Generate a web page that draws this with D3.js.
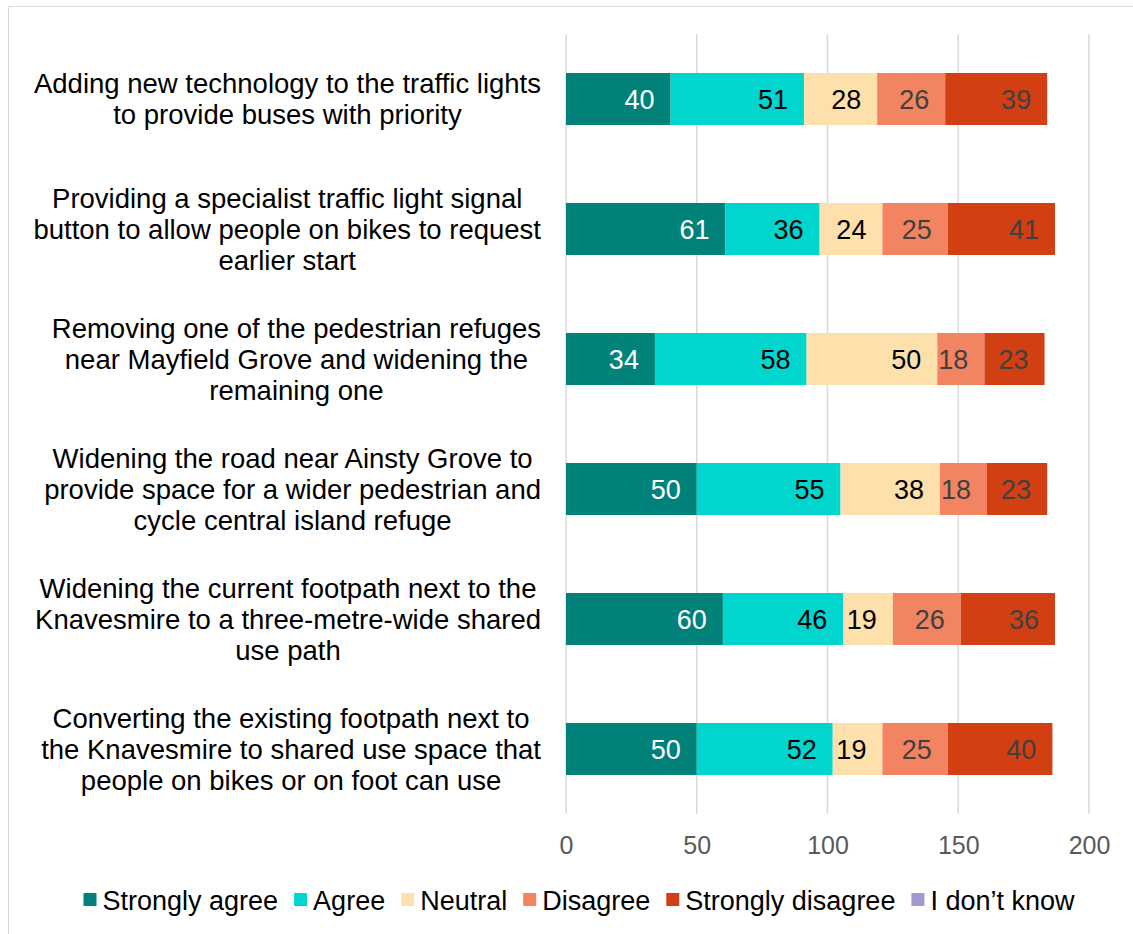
<!DOCTYPE html>
<html>
<head>
<meta charset="utf-8">
<script src="https://cdn.jsdelivr.net/npm/d3@7"></script>
<style>
  body { margin: 0; background: #fff; }
  text { font-family: "Liberation Sans", Arial, sans-serif; }
</style>
</head>
<body>
<svg id="chart" width="1133" height="934"></svg>
<script>
const categories = [
  ['Adding new technology to the traffic lights', 'to provide buses with priority'],
  ['Providing a specialist traffic light signal', 'button to allow people on bikes to request', 'earlier start'],
  ['Removing one of the pedestrian refuges', 'near Mayfield Grove and widening the', 'remaining one'],
  ['Widening the road near Ainsty Grove to', 'provide space for a wider pedestrian and', 'cycle central island refuge'],
  ['Widening the current footpath next to the', 'Knavesmire to a three-metre-wide shared', 'use path'],
  ['Converting the existing footpath next to', 'the Knavesmire to shared use space that', 'people on bikes or on foot can use'],
];

const seriesNames = ['Strongly agree', 'Agree', 'Neutral', 'Disagree', 'Strongly disagree', 'I don\u2019t know'];
const stronglyAgree = [40, 61, 34, 50, 60, 50];
const agree = [51, 36, 58, 55, 46, 52];
const neutral = [28, 24, 50, 38, 19, 19];
const disagree = [26, 25, 18, 18, 26, 25];
const stronglyDisagree = [39, 41, 23, 23, 36, 40];
const dontKnow = [0, 0, 0, 0, 0, 0];
const xTicks = [0, 50, 100, 150, 200];

const colors = ['#00827a', '#00d6ce', '#fde0ab', '#f28462', '#d13f12', '#a399d2'];
const labelColors = ['#ffffff', '#000000', '#000000', '#404040', '#404040', '#404040'];

const series = [stronglyAgree, agree, neutral, disagree, stronglyDisagree, dontKnow];
const rows = categories.map((c, i) => {
  const r = { idx: i };
  seriesNames.forEach((s, j) => { r[s] = series[j][i]; });
  return r;
});

const svg = d3.select('#chart');

// outer frame (only top and left edges visible)
svg.append('path')
  .attr('d', 'M8.5,934 V6.5 H1133')
  .attr('fill', 'none')
  .attr('stroke', '#d9d9d9')
  .attr('stroke-width', 1);

const x = d3.scaleLinear().domain([0, 200]).range([566, 1089]);
const y = d3.scaleBand().domain(d3.range(categories.length)).range([34, 814]).paddingInner(0.6).paddingOuter(0.3);

// gridlines
svg.append('g')
  .selectAll('line')
  .data(xTicks)
  .join('line')
    .attr('x1', d => x(d)).attr('x2', d => x(d))
    .attr('y1', 34).attr('y2', 814)
    .attr('stroke', '#d9d9d9')
    .attr('stroke-width', 1.5);

// x axis labels
const xAxis = svg.append('g')
  .attr('transform', 'translate(0,836)')
  .call(d3.axisBottom(x).tickValues(xTicks).tickSize(0).tickPadding(0));
xAxis.select('.domain').remove();
xAxis.selectAll('text')
  .attr('dy', '0.71em')
  .style('font-size', '25px')
  .attr('fill', '#595959');

const stack = d3.stack().keys(seriesNames)(rows);

const layers = svg.append('g')
  .selectAll('g')
  .data(stack)
  .join('g')
    .attr('fill', (d, i) => colors[i]);

layers.selectAll('rect')
  .data(d => d.filter(p => p[1] > p[0]))
  .join('rect')
    .attr('x', d => x(d[0]))
    .attr('width', d => x(d[1]) - x(d[0]))
    .attr('y', d => y(d.data.idx))
    .attr('height', y.bandwidth());

// data labels, inside end
const labels = svg.append('g');
stack.forEach((layer, si) => {
  labels.selectAll(null)
    .data(layer.filter(p => p[1] > p[0]))
    .join('text')
      .attr('x', d => x(d[1]) - 16)
      .attr('y', d => y(d.data.idx) + y.bandwidth() / 2)
      .attr('dy', '0.36em')
      .attr('text-anchor', 'end')
      .style('font-size', '27px')
      .attr('fill', labelColors[si])
      .text(d => d[1] - d[0]);
});

// category labels, lines centered within a right-aligned block
const lineH = 31;
const catG = svg.append('g');
categories.forEach((lines, i) => {
  const t = catG.append('text')
    .style('font-size', '27.5px')
    .attr('fill', '#000')
    .attr('text-anchor', 'middle');
  const cy = y(i) + y.bandwidth() / 2;
  const top = cy - (lines.length - 1) * lineH / 2;
  lines.forEach((ln, k) => {
    t.append('tspan')
      .attr('y', top + k * lineH)
      .attr('dy', '0.36em')
      .text(ln);
  });
  let maxW = 0;
  t.selectAll('tspan').each(function() {
    maxW = Math.max(maxW, this.getComputedTextLength());
  });
  t.selectAll('tspan').attr('x', 541 - maxW / 2);
});

// legend
const legend = svg.append('g').attr('transform', 'translate(0,900)');
let lx = 0;
seriesNames.forEach((name, i) => {
  const g = legend.append('g');
  g.append('rect')
    .attr('x', 0).attr('y', -7)
    .attr('width', 13).attr('height', 13)
    .attr('fill', colors[i]);
  const t = g.append('text')
    .attr('x', 19)
    .attr('dy', '0.36em')
    .style('font-size', '27px')
    .attr('fill', '#000')
    .text(name);
  g.attr('transform', `translate(${lx},0)`);
  lx += 19 + t.node().getComputedTextLength() + 16;
});
const legendW = lx - 16;
legend.attr('transform', `translate(${579 - legendW / 2},900)`);
</script>
</body>
</html>
